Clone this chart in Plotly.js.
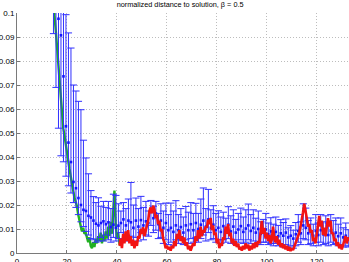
<!DOCTYPE html>
<html>
<head>
<meta charset="utf-8">
<script src="https://cdn.plot.ly/plotly-3.0.1.min.js"></script>
<style>
html,body{margin:0;padding:0;background:#fff;}
#chart{width:349px;height:262px;}
</style>
</head>
<body>
<div id="chart"></div>
<script>
// Error-bar series (blue): positions, means, upper and lower ends
const barX = [14.6,15.6,16.6,17.6,18.6,19.6,20.6,21.6,22.6,23.6,24.6,25.6,26.6,27.6,28.6,29.6,30.6,31.6,32.6,33.6,34.6,35.6,36.6,37.6,38.6,39.6,40.6,41.6,42.6,43.6,44.6,45.6,46.6,47.6,48.6,49.6,50.6,51.6,52.6,53.6,54.6,55.6,56.6,57.6,58.6,59.6,60.6,61.6,62.6,63.6,64.6,65.6,66.6,67.6,68.6,69.6,70.6,71.6,72.6,73.6,74.6,75.6,76.6,77.6,78.6,79.6,80.6,81.6,82.6,83.6,84.6,85.6,86.6,87.6,88.6,89.6,90.6,91.6,92.6,93.6,94.6,95.6,96.6,97.6,98.6,99.6,100.6,101.6,102.6,103.6,104.6,105.6,106.6,107.6,108.6,109.6,110.6,111.6,112.6,113.6,114.6,115.6,116.6,117.6,118.6,119.6,120.6,121.6,122.6,123.6,124.6,125.6,126.6,127.6,128.6,129.6,130.6,131.6,132.6];
const barMean = [0.125,0.112,0.0976,0.0907,0.0736,0.0528,0.046,0.0379,0.0296,0.027,0.0229,0.020,0.018,0.0175,0.0155,0.0148,0.0135,0.0122,0.0115,0.0125,0.0132,0.012,0.0128,0.0108,0.0118,0.0105,0.0114,0.0125,0.014,0.0115,0.0135,0.0128,0.0105,0.0135,0.011,0.0137,0.0115,0.0132,0.0125,0.0176,0.0145,0.0165,0.012,0.0135,0.0105,0.0125,0.0095,0.0105,0.0088,0.0115,0.0095,0.0108,0.0085,0.0115,0.0095,0.012,0.0095,0.0125,0.010,0.0118,0.0135,0.011,0.014,0.0105,0.0118,0.0095,0.0105,0.0088,0.0112,0.0095,0.0118,0.009,0.011,0.0085,0.0098,0.0112,0.0088,0.0102,0.0115,0.0092,0.0105,0.0085,0.010,0.008,0.0092,0.0098,0.0078,0.009,0.0075,0.0088,0.007,0.0082,0.0072,0.0085,0.0065,0.0072,0.006,0.0078,0.0092,0.0082,0.0115,0.0105,0.0082,0.009,0.0072,0.0092,0.0075,0.0095,0.0078,0.009,0.0075,0.0092,0.0078,0.0085,0.007,0.0082,0.0065,0.0072,0.006];
const barHigh = [0.17,0.16,0.15,0.14,0.125,0.0993,0.0917,0.0854,0.070,0.0675,0.0632,0.0597,0.047,0.0396,0.033,0.026,0.0235,0.021,0.023,0.0195,0.0215,0.019,0.0215,0.0185,0.0245,0.024,0.0205,0.0175,0.021,0.0185,0.0225,0.0294,0.020,0.0229,0.0185,0.0236,0.019,0.0215,0.0175,0.0219,0.0195,0.0215,0.0165,0.0205,0.0175,0.0208,0.016,0.0208,0.0175,0.0218,0.016,0.0185,0.015,0.0194,0.017,0.021,0.0165,0.0207,0.0165,0.0225,0.0271,0.0185,0.0265,0.018,0.0197,0.0165,0.0176,0.015,0.017,0.0145,0.0193,0.0155,0.018,0.014,0.0165,0.0187,0.015,0.018,0.0204,0.016,0.018,0.0145,0.0175,0.013,0.014,0.0165,0.0125,0.0147,0.012,0.015,0.0115,0.0139,0.0127,0.0142,0.0105,0.0114,0.0095,0.0127,0.016,0.013,0.0205,0.0187,0.0135,0.0146,0.012,0.016,0.0125,0.016,0.013,0.0155,0.0125,0.016,0.0135,0.0146,0.012,0.0146,0.0105,0.0125,0.0097];
const barLow = [0.0914,0.069,0.052,0.0405,0.038,0.032,0.028,0.025,0.021,0.019,0.016,0.013,0.011,0.009,0.0075,0.006,0.0055,0.0045,0.005,0.0065,0.005,0.0075,0.0055,0.0045,0.0065,0.005,0.006,0.0085,0.0055,0.0075,0.005,0.007,0.0045,0.0065,0.005,0.0085,0.0055,0.0075,0.007,0.0115,0.0085,0.0095,0.006,0.0065,0.004,0.0055,0.0035,0.0045,0.003,0.0055,0.004,0.0055,0.0035,0.0055,0.004,0.006,0.0045,0.0065,0.0045,0.006,0.0075,0.005,0.0085,0.0055,0.006,0.0045,0.0055,0.004,0.0055,0.0045,0.006,0.004,0.0055,0.0035,0.0045,0.0055,0.004,0.0045,0.0055,0.004,0.005,0.0035,0.0045,0.0035,0.0045,0.0045,0.0035,0.004,0.003,0.004,0.003,0.0035,0.0025,0.0035,0.0025,0.003,0.002,0.003,0.0045,0.0035,0.006,0.0055,0.0035,0.004,0.003,0.0045,0.003,0.0045,0.0035,0.004,0.003,0.0045,0.0035,0.004,0.003,0.0035,0.0025,0.003,0.0025];

// Green series
const greenX = [14.0,14.5,15.0,15.5,16.0,16.5,17.0,17.5,18.0,18.5,19.0,19.5,20.0,20.5,21.0,21.5,22.0,22.5,23.0,23.5,24.0,24.5,25.0,25.5,26.0,26.5,27.0,27.5,28.0,28.5,29.0,29.5,30.0,30.5,31.0,31.5,32.0,32.5,33.0,33.5,34.0,34.5,35.0,35.5,36.0,36.5,37.0,37.5,38.0,38.5,39.0,39.5,40.0,40.5,41.0,41.5];
const greenY = [0.118,0.105,0.099,0.093,0.086,0.078,0.070,0.062,0.056,0.052,0.049,0.045,0.043,0.038,0.035,0.032,0.028,0.026,0.023,0.021,0.0195,0.016,0.014,0.012,0.009,0.0105,0.008,0.0085,0.006,0.0045,0.0065,0.003,0.002,0.0045,0.0025,0.006,0.004,0.007,0.005,0.0085,0.004,0.0075,0.005,0.009,0.006,0.011,0.007,0.013,0.008,0.018,0.026,0.012,0.006,0.0085,0.004,0.003];

// Red series
const redX = [41.0,41.5,42.0,42.5,43.0,43.5,44.0,44.5,45.0,45.5,46.0,46.5,47.0,47.5,48.0,48.5,49.0,49.5,50.0,50.5,51.0,51.5,52.0,52.5,53.0,53.5,54.0,54.5,55.0,55.5,56.0,56.5,57.0,57.5,58.0,58.5,59.0,59.5,60.0,60.5,61.0,61.5,62.0,62.5,63.0,63.5,64.0,64.5,65.0,65.5,66.0,66.5,67.0,67.5,68.0,68.5,69.0,69.5,70.0,70.5,71.0,71.5,72.0,72.5,73.0,73.5,74.0,74.5,75.0,75.5,76.0,76.5,77.0,77.5,78.0,78.5,79.0,79.5,80.0,80.5,81.0,81.5,82.0,82.5,83.0,83.5,84.0,84.5,85.0,85.5,86.0,86.5,87.0,87.5,88.0,88.5,89.0,89.5,90.0,90.5,91.0,91.5,92.0,92.5,93.0,93.5,94.0,94.5,95.0,95.5,96.0,96.5,97.0,97.5,98.0,98.5,99.0,99.5,100.0,100.5,101.0,101.5,102.0,102.5,103.0,103.5,104.0,104.5,105.0,105.5,106.0,106.5,107.0,107.5,108.0,108.5,109.0,109.5,110.0,110.5,111.0,111.5,112.0,112.5,113.0,113.5,114.0,114.5,115.0,115.5,116.0,116.5,117.0,117.5,118.0,118.5,119.0,119.5,120.0,120.5,121.0,121.5,122.0,122.5,123.0,123.5,124.0,124.5,125.0,125.5,126.0,126.5,127.0,127.5,128.0,128.5,129.0,129.5,130.0,130.5,131.0,131.5,132.0,132.5,133.0];
const redY = [0.003,0.006,0.002,0.008,0.004,0.009,0.005,0.0095,0.004,0.007,0.003,0.0055,0.002,0.005,0.003,0.007,0.006,0.010,0.008,0.0107,0.007,0.009,0.012,0.0135,0.0175,0.019,0.0165,0.0197,0.018,0.0145,0.016,0.012,0.0135,0.009,0.010,0.006,0.0045,0.002,0.003,0.0015,0.0025,0.001,0.003,0.002,0.005,0.003,0.008,0.006,0.0095,0.005,0.007,0.004,0.0065,0.003,0.0045,0.0015,0.003,0.001,0.0025,0.004,0.003,0.007,0.005,0.0095,0.006,0.011,0.007,0.0095,0.0085,0.011,0.0105,0.0139,0.012,0.0146,0.0095,0.0115,0.0075,0.0085,0.004,0.006,0.002,0.004,0.003,0.0065,0.0055,0.011,0.008,0.012,0.007,0.0085,0.004,0.006,0.003,0.005,0.0025,0.004,0.0015,0.0025,0.001,0.003,0.0015,0.004,0.002,0.0035,0.001,0.003,0.0015,0.004,0.002,0.0045,0.0025,0.005,0.004,0.009,0.0134,0.008,0.0105,0.006,0.0085,0.005,0.0075,0.004,0.0055,0.011,0.006,0.0045,0.007,0.0035,0.0055,0.0025,0.004,0.002,0.0035,0.0015,0.003,0.001,0.0025,0.0008,0.002,0.0012,0.003,0.004,0.0055,0.007,0.0085,0.011,0.0135,0.017,0.0205,0.0165,0.0145,0.011,0.012,0.0085,0.0095,0.005,0.0065,0.004,0.008,0.012,0.0155,0.011,0.0135,0.0075,0.0105,0.007,0.0115,0.0145,0.011,0.0135,0.008,0.0085,0.005,0.006,0.003,0.0045,0.002,0.0035,0.0015,0.003,0.005,0.007,0.004,0.0065,0.005];

const xTicks = [0,20,40,60,80,100,120];
const yTicks = [0,0.01,0.02,0.03,0.04,0.05,0.06,0.07,0.08,0.09,0.1];
const yTickText = ['0','0.01','0.02','0.03','0.04','0.05','0.06','0.07','0.08','0.09','0.1'];
const titleText = 'normalized distance to solution, β = 0.5';

const errPlus = barHigh.map((h, i) => h - barMean[i]);
const errMinus = barLow.map((l, i) => barMean[i] - l);

const traces = [
  {
    x: greenX, y: greenY, type: 'scatter', mode: 'lines',
    line: {color: '#22b022', width: 2.4}, hoverinfo: 'skip'
  },
  {
    x: barX, y: barMean, type: 'scatter', mode: 'markers',
    marker: {color: '#1414ff', size: 2.6, symbol: 'square'},
    error_y: {type: 'data', symmetric: false, array: errPlus, arrayminus: errMinus,
              color: '#3030ff', thickness: 1, width: 3.6}
  },
  {
    x: redX, y: redY, type: 'scatter', mode: 'lines',
    line: {color: '#f21414', width: 2.6}, hoverinfo: 'skip'
  }
];

const axisFont = {family: 'Liberation Sans, Arial, sans-serif', size: 8, color: '#000'};
const gridCommon = {showgrid: true, gridcolor: '#bdbdbd', griddash: '1px,2px', gridwidth: 1,
  showline: true, linecolor: '#7a7a7a', linewidth: 1, zeroline: false, mirror: false,
  ticks: 'inside', ticklen: 3, tickcolor: '#777', tickfont: axisFont};
const layout = {
  width: 349, height: 262,
  margin: {l: 17, r: 0, t: 13, b: 9, pad: 0},
  paper_bgcolor: '#fff', plot_bgcolor: '#fff',
  showlegend: false,
  title: {text: titleText, font: {family: 'Liberation Sans, Arial, sans-serif', size: 7.3, color: '#000'},
          x: 0.516, xref: 'container', xanchor: 'center', y: 0.982, yref: 'container', yanchor: 'middle'},
  xaxis: Object.assign({range: [0, 132.9], tickvals: xTicks, ticktext: xTicks.map(String)}, gridCommon),
  yaxis: Object.assign({range: [0, 0.1], tickvals: yTicks, ticktext: yTickText}, gridCommon)
};

Plotly.newPlot('chart', traces, layout, {staticPlot: true, displayModeBar: false});
</script>
</body>
</html>
